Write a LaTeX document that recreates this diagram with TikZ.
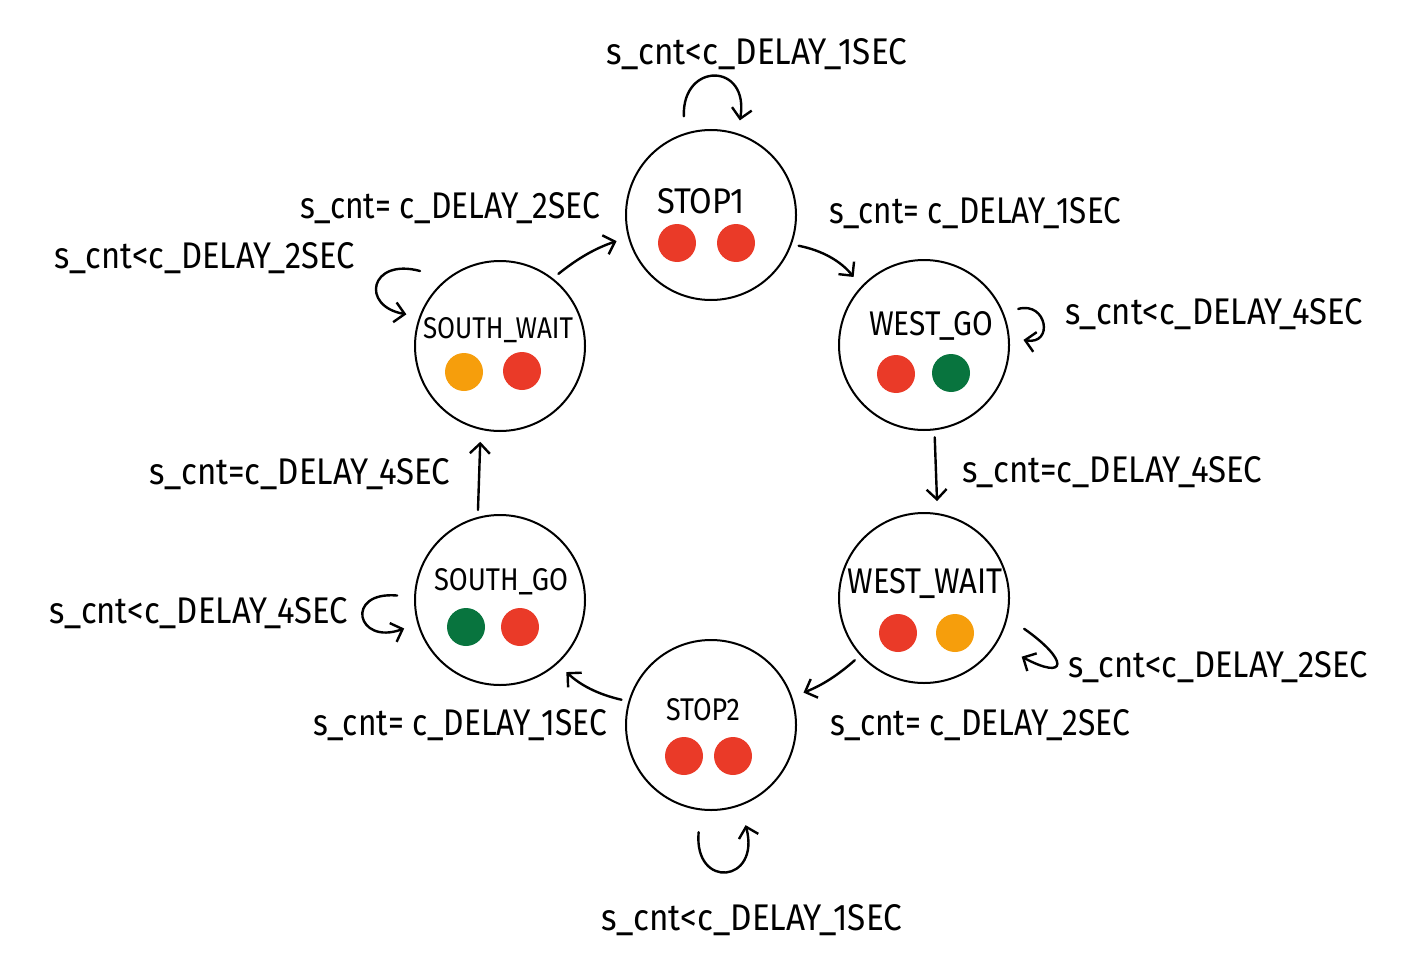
\documentclass[tikz,border=0pt]{standalone}
\usepackage{fontspec}
\setmainfont{Fira Sans}
\usepackage{graphicx}
\usetikzlibrary{arrows.meta,calc}
\definecolor{tlred}{RGB}{234,58,40}
\definecolor{tlgreen}{RGB}{8,116,62}
\definecolor{tlorange}{RGB}{246,158,12}
\newcommand\fitbox[3]{\resizebox{#1}{#2}{#3}}
\begin{document}
\begin{tikzpicture}[x=0.5pt,y=0.5pt,
  state/.style={circle,draw,line width=1pt,minimum size=85pt,inner sep=0pt},
  lamp/.style={circle,inner sep=0pt,minimum size=19pt},
  edge/.style={line width=1.2pt,-{Straight Barb[length=5pt,width=10pt]},line cap=round,shorten <=3.5pt,shorten >=6pt},
  lbl/.style={font=\fontsize{14}{16}\selectfont,inner sep=0pt},
  sname/.style={font=\fontsize{14}{16}\selectfont,inner sep=0pt}]
\useasboundingbox (0,0) rectangle (1416,-952);
% states
\node[state] (stop1) at (711,-215) {};
\node[state] (westgo) at (924,-345) {};
\node[state] (westwait) at (924,-598) {};
\node[state] (stop2) at (711,-725) {};
\node[state] (southgo) at (500,-600) {};
\node[state] (southwait) at (500,-346) {};
% state names
\node[sname] (n1) at (701,-201) {\fitbox{44pt}{12.5pt}{STOP1}};
\node[sname] (n2) at (931,-326) {\fitbox{62pt}{12pt}{WEST\_GO}};
\node[sname] (n3) at (925,-584) {\fitbox{77.5pt}{12.5pt}{WEST\_WAIT}};
\node[sname] (n4) at (703,-710) {\fitbox{37pt}{11pt}{STOP2}};
\node[sname] (n5) at (501,-582) {\fitbox{67pt}{11pt}{SOUTH\_GO}};
\node[sname] (n6) at (498,-330) {\fitbox{75pt}{10.5pt}{SOUTH\_WAIT}};
% lamps
\node[lamp,fill=tlred] (l1a) at (677,-243) {};
\node[lamp,fill=tlred] (l1b) at (736,-243) {};
\node[lamp,fill=tlred] (l2a) at (896,-374) {};
\node[lamp,fill=tlgreen] (l2b) at (951,-373) {};
\node[lamp,fill=tlred] (l3a) at (898,-633) {};
\node[lamp,fill=tlorange] (l3b) at (955,-633) {};
\node[lamp,fill=tlred] (l4a) at (684,-756) {};
\node[lamp,fill=tlred] (l4b) at (733,-756) {};
\node[lamp,fill=tlgreen] (l5a) at (466,-627) {};
\node[lamp,fill=tlred] (l5b) at (520,-627) {};
\node[lamp,fill=tlorange] (l6a) at (464,-372) {};
\node[lamp,fill=tlred] (l6b) at (522,-371) {};
% transitions around the ring
\draw[edge] (stop1.-20) to[bend left=20] (westgo.137);
\draw[edge] (westgo.-83) -- (westwait.81);
\draw[edge] (westwait.222) to[bend left=10] (stop2.19);
\draw[edge] (stop2.164) to[bend left=15] (southgo.-48);
\draw[edge] (southgo.105) -- (southwait.257);
\draw[edge] (southwait.52) to[bend left=10] (stop1.195);
% self loops
\draw[edge,shorten <=8.5pt,shorten >=6.5pt] (stop1.108) .. controls +(92:72) and +(80:72) .. (stop1.72);
\draw[edge,shorten <=7.5pt,shorten >=7pt] (westgo.22) .. controls +(15:45) and +(-10:45) .. (westgo.5);
\draw[edge,shorten <=10pt,shorten >=14pt] (westwait.-13) .. controls +(-35:75) and +(-28:80) .. (westwait.-32);
\draw[edge,shorten <=11pt,shorten >=10pt] (stop2.-97) .. controls +(-95:80) and +(-75:80) .. (stop2.-70);
\draw[edge,shorten <=8.5pt,shorten >=7pt] (southgo.178) .. controls +(175:70) and +(200:65) .. (southgo.196);
\draw[edge,shorten <=14pt,shorten >=6.5pt] (southwait.128) .. controls +(165:80) and +(170:60) .. (southwait.160);
% labels
\node[lbl] (t1) at (757,-54) {\fitbox{150pt}{13pt}{s\_cnt<c\_DELAY\_1SEC}};
\node[lbl] (t2) at (975,-213) {\fitbox{146pt}{13pt}{s\_cnt= c\_DELAY\_1SEC}};
\node[lbl] (t3) at (1214,-314) {\fitbox{149pt}{13pt}{s\_cnt<c\_DELAY\_4SEC}};
\node[lbl] (t4) at (1112,-472) {\fitbox{150pt}{13pt}{s\_cnt=c\_DELAY\_4SEC}};
\node[lbl] (t5) at (1218,-667) {\fitbox{150pt}{13pt}{s\_cnt<c\_DELAY\_2SEC}};
\node[lbl] (t6) at (980,-725) {\fitbox{150pt}{13pt}{s\_cnt= c\_DELAY\_2SEC}};
\node[lbl] (t7) at (752,-920) {\fitbox{150pt}{13pt}{s\_cnt<c\_DELAY\_1SEC}};
\node[lbl] (t8) at (460,-725) {\fitbox{147pt}{13pt}{s\_cnt= c\_DELAY\_1SEC}};
\node[lbl] (t9) at (199,-613) {\fitbox{149pt}{13pt}{s\_cnt<c\_DELAY\_4SEC}};
\node[lbl] (t10) at (300,-474) {\fitbox{150pt}{13pt}{s\_cnt=c\_DELAY\_4SEC}};
\node[lbl] (t11) at (205,-258) {\fitbox{150pt}{13pt}{s\_cnt<c\_DELAY\_2SEC}};
\node[lbl] (t12) at (450,-208) {\fitbox{150pt}{13pt}{s\_cnt= c\_DELAY\_2SEC}};
\end{tikzpicture}
\end{document}
